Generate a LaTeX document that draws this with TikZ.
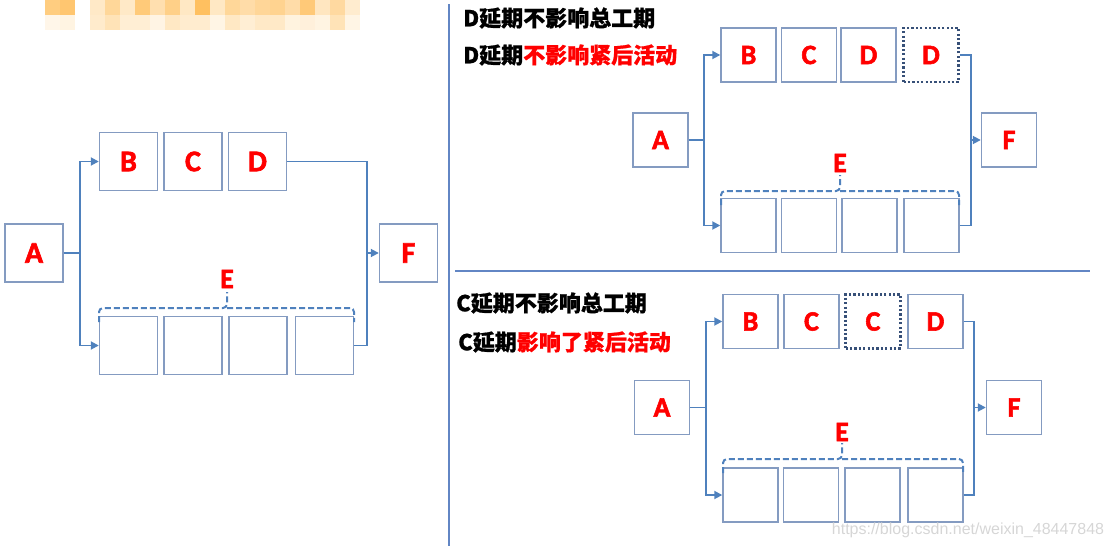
\documentclass[tikz,border=0pt]{standalone}
\usepackage{fontspec}
\newfontfamily\latfont{Carlito}[BoldFont={Carlito Bold}, BoldFeatures={FakeBold=2}]
\newfontfamily\cjkfont{Noto Sans CJK SC}[BoldFeatures={FakeBold=0.8}]
\newfontfamily\wmfont{Liberation Sans}
\usetikzlibrary{arrows.meta, calc}

\definecolor{boxline}{RGB}{132,155,193}
\definecolor{linkblue}{RGB}{79,129,189}
\definecolor{dotline}{RGB}{55,80,120}
\definecolor{divblue}{RGB}{98,134,196}
\definecolor{mosaic}{RGB}{255,192,96}

% dashed brace over the E boxes: left x, right x, y, tip x
\newcommand{\ebrace}[4]{%
    \draw[brace] (#1,#3+14) |- (#4,#3) -- (#4,#3-16);
    \draw[brace] (#4,#3) -| (#2,#3+14);
}

\begin{document}
\begin{tikzpicture}[x=1pt, y=-1pt,
    task/.style={draw=boxline, line width=1.4pt, minimum width=55pt, minimum height=54pt,
        inner sep=0pt, text=red, font=\latfont\bfseries\fontsize{28}{28}\selectfont},
    bigtask/.style={task, minimum width=58pt, minimum height=58pt,
        font=\latfont\bfseries\fontsize{30}{30}\selectfont},
    late/.style={task, draw=dotline, line width=2.6pt, dash pattern=on 2.2pt off 2.2pt},
    elabel/.style={inner sep=0pt, text=red, font=\latfont\bfseries\fontsize{28}{28}\selectfont},
    link/.style={draw=linkblue, line width=1.8pt},
    arr/.style={link, -{Triangle[length=8pt,width=8pt]}},
    brace/.style={draw=linkblue, line width=2pt, dash pattern=on 6pt off 3pt, rounded corners=4pt},
    divider/.style={draw=divblue, line width=1.4pt},
    title/.style={anchor=west, inner sep=0pt, font=\cjkfont\bfseries\fontsize{22}{22}\selectfont}]

    \useasboundingbox (0,0) rectangle (1114,549);

    % Blurred header
    \foreach \x/\p/\q in {45/80/14, 60/90/18, 90/35/32, 105/64/45, 120/35/27, 135/84/27,
        150/50/17, 165/75/37, 180/37/30, 195/100/30, 210/37/16, 225/64/37, 240/55/27,
        255/65/35, 270/70/35, 285/55/20, 300/85/23, 315/40/18, 330/60/45, 345/30/16} {
        \fill[mosaic!\p] (\x,0) rectangle ++(15,15);
        \fill[mosaic!\q] (\x,15) rectangle ++(15,15);
    }

    % Dividers
    \draw[divider] (449,4) -- (449,546);
    \draw[divider] (455,271) -- (1090,271);

    % Left network
    \node[bigtask] (la) at (34,253) {A};
    \node[bigtask] (lb) at (128.5,161.5) {B};
    \node[bigtask] (lc) at (193,161.5) {C};
    \node[bigtask] (ld) at (257.5,161.5) {D};
    \node[bigtask] (lf) at (408.5,253) {F};
    \foreach \i/\x in {1/128.5, 2/193, 3/258, 4/324.5}
        \node[bigtask] (le\i) at (\x,345.5) {};
    \ebrace{99}{354}{308}{227}
    \node[elabel] (le) at (227,279) {E};

    \coordinate (lsplit) at (80,253);
    \coordinate (ljoin) at (367,253);
    \draw[link] (la.east) -- (lsplit);
    \draw[arr] (lsplit) |- (lb.west);
    \draw[arr] (lsplit) |- (le1.west);
    \draw[link] (ld.east) -| (ljoin);
    \draw[link] (le4.east) -| (ljoin);
    \draw[arr] (ljoin) -- (lf.west);

    % Upper right: D delayed
    \node[title] (ut1) at (463,18) {D延期不影响总工期};
    \node[title] (ut2) at (463,55) {D延期\textcolor{red}{不影响紧后活动}};

    \node[task] (ua) at (660.5,140) {A};
    \node[task] (ub) at (748.5,55) {B};
    \node[task] (uc) at (809,55) {C};
    \node[task] (ud) at (868.5,55) {D};
    \node[late] (udd) at (931,55) {D};
    \node[task] (uf) at (1009,140) {F};
    \foreach \i/\x in {1/748.5, 2/809, 3/869.5, 4/931.5}
        \node[task] (ue\i) at (\x,225.5) {};
    \ebrace{721}{959}{191}{840}
    \node[elabel] (ue) at (840,163) {E};

    \coordinate (usplit) at (704,140);
    \coordinate (ujoin) at (971,140);
    \draw[link] (ua.east) -- (usplit);
    \draw[arr] (usplit) |- (ub.west);
    \draw[arr] (usplit) |- (ue1.west);
    \draw[link] (udd.east) -| (ujoin);
    \draw[link] (ue4.east) -| (ujoin);
    \draw[arr] (ujoin) -- (uf.west);

    % Lower right: C delayed
    \node[title] (dt1) at (456,303) {C延期不影响总工期};
    \node[title] (dt2) at (458,342) {C延期\textcolor{red}{影响了紧后活动}};

    \node[task] (da) at (662,407.5) {A};
    \node[task] (db) at (750.5,321.5) {B};
    \node[task] (dc) at (811.5,321.5) {C};
    \node[late] (dcc) at (873,321.5) {C};
    \node[task] (dd) at (935.5,321.5) {D};
    \node[task] (df) at (1014,407.5) {F};
    \foreach \i/\x in {1/750.5, 2/811, 3/872.5, 4/935.5}
        \node[task] (de\i) at (\x,495) {};
    \ebrace{723}{963}{459}{842}
    \node[elabel] (de) at (842,432) {E};

    \coordinate (dsplit) at (706,407.5);
    \coordinate (djoin) at (974,407.5);
    \draw[link] (da.east) -- (dsplit);
    \draw[arr] (dsplit) |- (db.west);
    \draw[arr] (dsplit) |- (de1.west);
    \draw[link] (dd.east) -| (djoin);
    \draw[link] (de4.east) -| (djoin);
    \draw[arr] (djoin) -- (df.west);

    % Watermark
    \node[text=black!16, inner sep=0pt, font=\wmfont\fontsize{16}{16}\selectfont] (wm) at (968,530)
        {https://blog.csdn.net/weixin\_48447848};
\end{tikzpicture}
\end{document}
